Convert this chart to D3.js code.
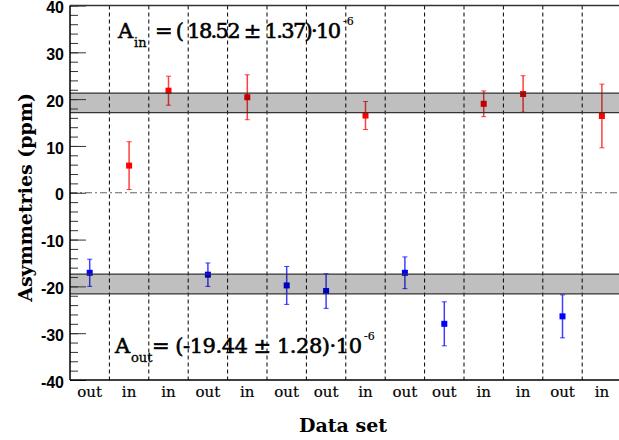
<!DOCTYPE html>
<html>
<head>
<meta charset="utf-8">
<script src="https://cdn.jsdelivr.net/npm/d3@7"></script>
<style>
  body { margin: 0; background: #fff; }
  svg { display: block; }
</style>
</head>
<body>
<div id="chart-area"></div>
<script>
// data
const set_labels = ["out", "in", "in", "out", "in", "out", "out", "in", "out", "out", "in", "in", "out", "in"];
const asym_values = [-17.1, 5.8, 21.8, -17.5, 20.4, -19.8, -21.0, 16.5, -17.1, -28.0, 19.0, 21.1, -26.4, 16.4];
const asym_errors = [2.9, 5.1, 3.1, 2.5, 4.8, 4.05, 3.7, 3.0, 3.4, 4.7, 2.75, 3.9, 4.6, 6.8];
const band_in = [17.1, 21.3];
const band_out = [-21.6, -17.4];
const major_ticks = [-40, -30, -20, -10, 0, 10, 20, 30, 40];
const minor_ticks = d3.range(-40, 41, 2);

const width = 619, height = 440;
const margin = {left: 70, top: 5.5, right: -2.6, bottom: 60};
const serif = "'DejaVu Serif', serif";

var svg = d3.select("#chart-area")
    .append("svg")
        .attr("width", width)
        .attr("height", height);

// Scales
var x = d3.scaleBand()
    .domain(d3.range(set_labels.length))
    .range([margin.left, width - margin.right]);

var y = d3.scaleLinear()
    .domain([-40, 40])
    .range([height - margin.bottom, margin.top]);

let x0 = margin.left, x1 = width - margin.right;

// dashed separators between data sets
svg.append("g")
    .selectAll("line")
    .data(d3.range(1, set_labels.length))
    .join("line")
        .attr("x1", d => x(d))
        .attr("x2", d => x(d))
        .attr("y1", y(40))
        .attr("y2", y(-40))
        .attr("stroke", "#000")
        .attr("stroke-width", 1)
        .attr("stroke-dasharray", "4,3");

// zero line
svg.append("line")
    .attr("x1", x0).attr("x2", x1)
    .attr("y1", y(0)).attr("y2", y(0))
    .attr("stroke", "#666")
    .attr("stroke-width", 1.2)
    .attr("stroke-dasharray", "7,3,2,3");

// error bars + points
let pts = svg.append("g");
set_labels.forEach(function(lab, i) {
    let col = lab == "in" ? "#ff0000" : "#0000ff";
    let cx = x(i) + x.bandwidth() / 2;
    let lo = y(asym_values[i] - asym_errors[i]);
    let hi = y(asym_values[i] + asym_errors[i]);
    pts.append("line")
        .attr("x1", cx).attr("x2", cx)
        .attr("y1", lo).attr("y2", hi)
        .attr("stroke", col).attr("stroke-width", 1.5).attr("opacity", 0.75);
    for (let yy of [lo, hi]) {
        pts.append("line")
            .attr("x1", cx - 2.5).attr("x2", cx + 2.5)
            .attr("y1", yy).attr("y2", yy)
            .attr("stroke", col).attr("stroke-width", 1).attr("opacity", 0.75);
    }
    pts.append("rect")
        .attr("x", cx - 3).attr("y", y(asym_values[i]) - 3)
        .attr("width", 6).attr("height", 6)
        .attr("fill", col);
});

// averaged bands (drawn on top, semi transparent)
for (let b of [band_in, band_out]) {
    svg.append("rect")
        .attr("x", x0).attr("width", x1 - x0)
        .attr("y", y(b[1])).attr("height", y(b[0]) - y(b[1]))
        .attr("fill", "#000").attr("fill-opacity", 0.25);
    for (let v of b) {
        svg.append("line")
            .attr("x1", x0).attr("x2", x1)
            .attr("y1", y(v)).attr("y2", y(v))
            .attr("stroke", "#333").attr("stroke-width", 1.2);
    }
}

// Y axis ticks (inside)
svg.append("g")
    .attr("transform", "translate(" + x0 + ",0)")
    .call(d3.axisRight(y).tickValues(minor_ticks).tickSize(8).tickFormat(""))
    .call(g => g.select(".domain").remove())
    .selectAll("line").attr("stroke", "#333");
svg.append("g")
    .attr("transform", "translate(" + x0 + ",0)")
    .call(d3.axisRight(y).tickValues(major_ticks).tickSize(16).tickFormat(""))
    .call(g => g.select(".domain").remove())
    .selectAll("line").attr("stroke", "#333");
var yAxisLabels = svg.append("g")
    .attr("transform", "translate(" + x0 + ",0)")
    .call(d3.axisLeft(y).tickValues(major_ticks).tickSize(0).tickPadding(6)
        .tickFormat(d => String(d)));
yAxisLabels.select(".domain").remove();
yAxisLabels.selectAll("text")
    .attr("dy", "0.45em")
    .attr("font-family", "'Liberation Sans', Arial, sans-serif")
    .attr("font-weight", "bold")
    .attr("font-size", "16px")
    .attr("fill", "#000");

// frame
svg.append("line").attr("x1", x0).attr("x2", x1).attr("y1", y(40)).attr("y2", y(40))
    .attr("stroke", "#333").attr("stroke-width", 1.5);
svg.append("line").attr("x1", x0).attr("x2", x1).attr("y1", y(-40)).attr("y2", y(-40))
    .attr("stroke", "#000").attr("stroke-width", 1.5);
svg.append("line").attr("x1", x0).attr("x2", x0).attr("y1", y(40)).attr("y2", y(-40))
    .attr("stroke", "#000").attr("stroke-width", 1.5);

// X labels
svg.append("g")
    .selectAll("text")
    .data(set_labels)
    .join("text")
        .attr("x", (d, i) => x(i) + x.bandwidth() / 2)
        .attr("y", 397)
        .attr("text-anchor", "middle")
        .attr("font-family", serif)
        .attr("font-size", "15px")
        .attr("stroke", "#000").attr("stroke-width", 0.2)
        .text(d => d);

// axis titles
svg.append("text")
    .attr("x", 343).attr("y", 432)
    .attr("text-anchor", "middle")
    .attr("font-family", serif)
    .attr("font-weight", "bold")
    .attr("font-size", "19px")
    .text("Data set");

svg.append("text")
    .attr("transform", "rotate(-90)")
    .attr("x", -y(-1)).attr("y", 32)
    .attr("text-anchor", "middle")
    .attr("font-family", serif)
    .attr("font-weight", "bold")
    .attr("font-size", "19px")
    .text("Asymmetries (ppm)");

// fit results
function formula(xpos, ypos, sub, subx, body, bodyx, bodylen) {
    let f = svg.append("g")
        .attr("font-family", serif)
        .attr("fill", "#000")
        .attr("stroke", "#000")
        .attr("stroke-width", 0.6);
    f.append("text").attr("x", xpos).attr("y", ypos)
        .attr("font-size", "21px").text("A");
    f.append("text").attr("x", subx).attr("y", ypos + 8.5)
        .attr("font-size", "13px").attr("stroke-width", 0.3).text(sub);
    f.append("text").attr("x", bodyx).attr("y", ypos)
        .attr("font-size", "21px")
        .attr("textLength", bodylen).attr("lengthAdjust", "spacing")
        .text(body);
    f.append("text").attr("x", bodyx + bodylen + 2).attr("y", ypos - 13)
        .attr("font-size", "11px").attr("stroke-width", 0.2).text("-6");
}
formula(118, 38, "in", 134, "= ( 18.52 \u00b1 1.37)\u00b710", 155, 186);
formula(115, 353, "out", 131, "= (-19.44 \u00b1 1.28)\u00b710", 152, 210);
</script>
</body>
</html>
